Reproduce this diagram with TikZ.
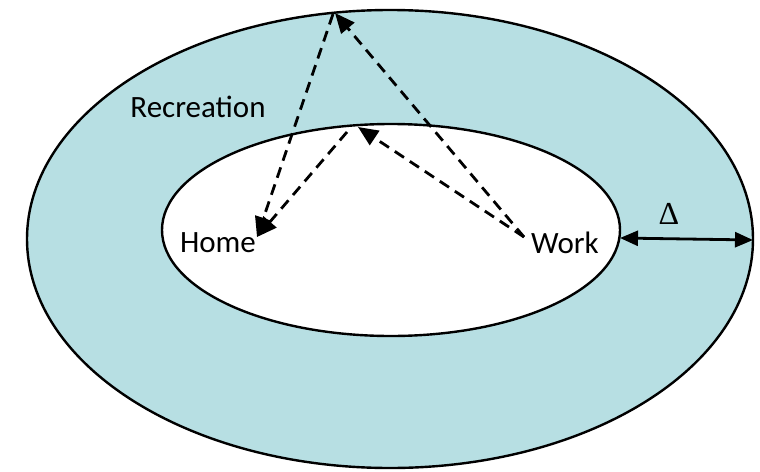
\documentclass[tikz,border=0pt]{standalone}
\usepackage{fontspec}
\setmainfont{Carlito}
\newfontfamily\serifdelta{Liberation Serif}
\usetikzlibrary{arrows.meta}
\definecolor{ringblue}{RGB}{183,223,227}
\tikzset{
  ring/.style={draw=black, line width=2.4pt},
  dasharrow/.style={dashed, dash pattern=on 11pt off 7pt, line width=2.8pt, -{Triangle[length=20pt,width=17pt]}},
  dimarrow/.style={line width=2.8pt, {Triangle[length=18pt,width=15pt]}-{Triangle[length=18pt,width=15pt]}},
  lbl/.style={font=\fontsize{31pt}{35pt}\selectfont, inner sep=0pt}
}
\begin{document}
\begin{tikzpicture}[x=1pt,y=-1pt]
\useasboundingbox (0,0) rectangle (760,471);
\fill[white] (0,0) rectangle (760,471);
\draw[ring, fill=ringblue] (390,239) ellipse [x radius=363, y radius=229];
\draw[ring, fill=white] (391,230) ellipse [x radius=229, y radius=106];
\node[lbl] (rec) at (198,107) {Recreation};
\node[lbl] (home) at (218,243) {Home};
\node[lbl] (work) at (565,243) {Work};
\node[inner sep=0pt, font=\serifdelta\fontsize{32pt}{36pt}\selectfont] (delta) at (669,214) {Δ};
\coordinate (wk) at (524,237);
\coordinate (hm) at (257,237);
\coordinate (otop) at (335,13);
\coordinate (otopL) at (333,14);
\coordinate (itop) at (358,127);
\coordinate (itopL) at (347,132);
\coordinate (inR) at (620,238);
\coordinate (outR) at (753,240);
\draw[dasharrow] (wk) -- (otop);
\draw[dasharrow] (otopL) -- (hm);
\draw[dasharrow] (wk) -- (itop);
\draw[dasharrow] (itopL) -- (hm);
\draw[dimarrow] (inR) -- (outR);
\end{tikzpicture}
\end{document}
